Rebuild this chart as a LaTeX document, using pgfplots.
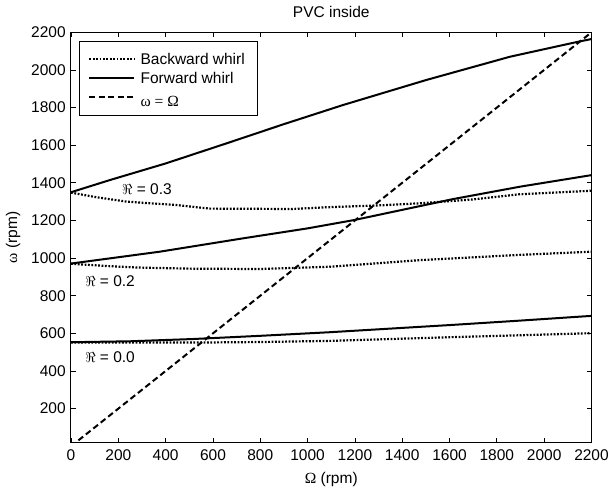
\documentclass[border=0pt]{standalone}
\usepackage{pgfplots}
\pgfplotsset{compat=1.18}
\usepackage{fontspec}
\setmainfont{Liberation Sans}
\newfontfamily\serif{Liberation Serif}
\pgfplotsset{
  mylegend/.style={legend image code/.code={\draw[##1] (0bp,0bp) -- (45bp,0bp);}},
  fwd/.style={black, line width=2bp, solid},
  bwd/.style={black, line width=2.2bp, dash pattern=on 1.8bp off 1.6bp},
  eqd/.style={black, line width=2bp, dash pattern=on 6bp off 3.5bp},
}
\begin{document}
\fontsize{15.5bp}{18bp}\selectfont
\begin{tikzpicture}
\begin{axis}[
  at={(0,0)}, anchor=south west,
  scale only axis, width=520.5bp, height=410.4bp,
  xmin=0, xmax=2200, ymin=19, ymax=2200,
  xtick={0,200,...,2200}, ytick={200,400,...,2200},
  tick align=inside, major tick length=5bp,
  axis line style={line width=1bp},
  tick style={line width=0.8bp, black},
  /pgf/number format/assume math mode=true,
  /pgf/number format/set thousands separator={},
  xticklabel style={yshift=-2bp},
  title={PVC inside},
  title style={at={(axis description cs:0.5,1.0495)}, anchor=center, yshift=-6bp},
  xlabel={{\serif Ω} (rpm)},
  xlabel style={at={(axis description cs:0.5,-0.0905)}, anchor=center},
  ylabel={{\serif ω} (rpm)},
  ylabel style={at={(axis description cs:-0.1114,0.5)}, anchor=center},
  legend cell align=left,
  legend style={at={(axis description cs:0,1)}, anchor=north west,
    xshift=8bp, yshift=-8.7bp, draw=black, line width=0.8bp,
    inner xsep=9bp, inner ysep=12.5bp, row sep=8bp, column sep=1bp,
    nodes={inner xsep=4bp, inner ysep=0pt, text height=11bp, text depth=0bp},
    font=\fontsize{15.5bp}{18bp}\selectfont},
]
\addlegendimage{bwd, mylegend}\addlegendentry{Backward whirl}
\addlegendimage{fwd, mylegend}\addlegendentry{Forward whirl}
\addlegendimage{eqd, mylegend}\addlegendentry{\raisebox{-4bp}{\serif ω = Ω}}

% omega = Omega
\addplot[eqd, forget plot] coordinates {(0,0) (2200,2200)};

% R = 0.3
\addplot[fwd, forget plot] coordinates {(0,1350) (165,1415) (400,1503) (658,1610) (900,1712) (1151,1814) (1503,1947) (1855,2070) (2144,2150) (2200,2164)};
\addplot[bwd, forget plot] coordinates {(0,1348) (100,1325) (235,1300) (446,1282) (586,1263) (937,1261) (1078,1270) (1300,1280) (1472,1291) (1700,1312) (1894,1339) (2200,1358)};

% R = 0.2
\addplot[fwd, forget plot] coordinates {(0,971) (375,1034) (727,1105) (1000,1158) (1200,1203) (1612,1313) (1900,1380) (2200,1441)};
\addplot[bwd, forget plot] coordinates {(0,970) (150,958) (277,950) (500,944) (797,942) (1092,954) (1472,989) (1894,1017) (2200,1034)};

% R = 0.0
\addplot[fwd, forget plot] coordinates {(0,553) (250,558) (516,570) (800,587) (1092,606) (1612,645) (1900,668) (2200,693)};
\addplot[bwd, forget plot] coordinates {(0,552) (516,551) (800,554) (1092,560) (1612,580) (1900,590) (2200,601)};

\node at (axis cs:321,1366) {$\Re$ = 0.3};
\node at (axis cs:165,875) {$\Re$ = 0.2};
\node at (axis cs:165,473) {$\Re$ = 0.0};
\end{axis}
\pgfresetboundingbox
\path[use as bounding box] (-71bp,-46.3bp) rectangle (537bp,442.7bp);
\end{tikzpicture}
\end{document}
